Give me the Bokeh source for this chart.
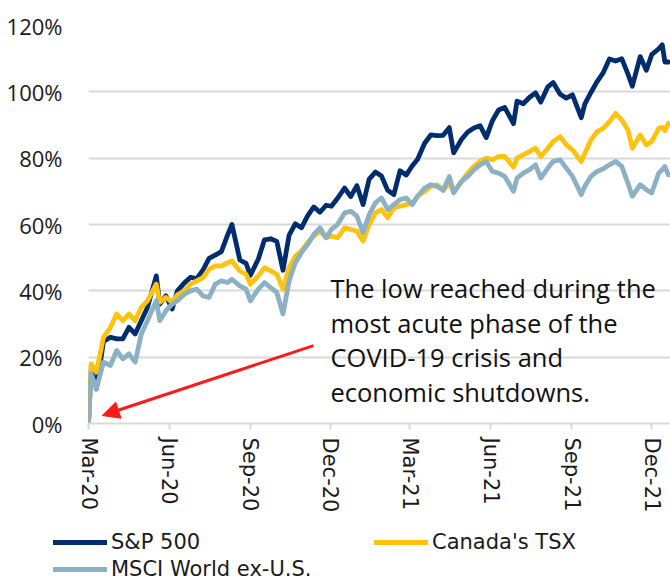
import pandas as pd
from bokeh.plotting import figure
from bokeh.layouts import column
from bokeh.models import (Range1d, FixedTicker, Legend, LegendItem, Label, Arrow,
                          NormalHead, ColumnDataSource)
from bokeh.embed import file_html
from bokeh.resources import INLINE

# ---------------- data (cumulative return since the March 23, 2020 low, %) ----------------
dates = [
    "2020-03-23", "2020-03-26", "2020-04-01", "2020-04-09", "2020-04-17", "2020-04-24",
    "2020-05-01", "2020-05-08", "2020-05-15", "2020-05-22", "2020-05-29", "2020-06-08",
    "2020-06-12", "2020-06-19", "2020-06-26", "2020-07-02", "2020-07-10", "2020-07-17",
    "2020-07-24", "2020-07-31", "2020-08-07", "2020-08-14", "2020-08-21", "2020-08-28",
    "2020-09-02", "2020-09-11", "2020-09-18", "2020-09-23", "2020-10-02", "2020-10-09",
    "2020-10-16", "2020-10-23", "2020-10-30", "2020-11-06", "2020-11-13", "2020-11-20",
    "2020-11-27", "2020-12-04", "2020-12-11", "2020-12-18", "2020-12-24", "2020-12-31",
    "2021-01-08", "2021-01-15", "2021-01-22", "2021-01-29", "2021-02-05", "2021-02-12",
    "2021-02-19", "2021-02-26", "2021-03-05", "2021-03-12", "2021-03-19", "2021-03-26",
    "2021-04-01", "2021-04-09", "2021-04-16", "2021-04-23", "2021-04-30", "2021-05-07",
    "2021-05-12", "2021-05-21", "2021-05-28", "2021-06-04", "2021-06-11", "2021-06-18",
    "2021-06-25", "2021-07-02", "2021-07-09", "2021-07-19", "2021-07-23", "2021-07-30",
    "2021-08-06", "2021-08-13", "2021-08-19", "2021-08-27", "2021-09-02", "2021-09-10",
    "2021-09-17", "2021-09-24", "2021-10-04", "2021-10-08", "2021-10-15", "2021-10-22",
    "2021-10-29", "2021-11-05", "2021-11-12", "2021-11-19", "2021-11-26", "2021-12-01",
    "2021-12-10", "2021-12-17", "2021-12-23", "2021-12-31", "2022-01-04", "2022-01-07",
    "2022-01-11",
]

sp500 = [
    0, 17.5, 10.4, 24.7, 26.0, 25.5, 25.5, 29.0, 27.0, 31.0, 35.0, 44.5,
    36.0, 38.5, 34.5, 40.0, 42.4, 44.1, 43.7, 46.2, 49.8, 50.8, 51.8, 56.8,
    60.0, 49.3, 48.3, 44.7, 49.6, 55.4, 55.7, 54.9, 46.2, 56.8, 60.2, 59.0,
    62.6, 65.3, 63.7, 65.8, 65.5, 67.9, 71.0, 68.4, 71.7, 66.0, 73.7, 75.8,
    74.6, 70.3, 69.0, 76.2, 74.9, 77.7, 79.7, 84.5, 87.0, 86.8, 86.9, 89.2,
    81.6, 85.7, 87.9, 89.1, 89.8, 86.2, 91.3, 94.5, 95.3, 90.4, 97.2, 96.4,
    98.3, 99.7, 96.9, 101.5, 102.8, 99.3, 98.1, 99.1, 92.2, 96.3, 99.8, 103.1,
    105.8, 109.9, 109.3, 110.0, 105.4, 101.7, 110.6, 106.5, 111.2, 113.0, 114.2, 109.0,
    109.0,
]

tsx = [
    0, 18.0, 15.5, 26.0, 29.0, 33.0, 31.0, 33.0, 31.0, 35.0, 37.0, 42.0,
    36.5, 38.0, 36.5, 38.8, 40.0, 42.0, 43.0, 44.0, 46.5, 47.5, 47.5, 48.5,
    49.0, 46.0, 45.0, 42.0, 44.5, 47.0, 46.0, 45.0, 40.5, 47.0, 50.5, 52.0,
    54.5, 56.5, 58.0, 56.0, 56.5, 56.0, 59.0, 58.5, 58.0, 55.0, 60.0, 63.5,
    64.5, 62.0, 65.0, 65.5, 66.0, 66.5, 68.5, 70.0, 71.5, 72.0, 70.3, 72.5,
    70.0, 73.0, 75.5, 77.5, 79.0, 80.0, 79.5, 80.5, 80.5, 77.3, 80.0, 81.0,
    82.0, 83.0, 80.5, 83.0, 85.0, 86.5, 84.0, 82.5, 79.0, 81.5, 85.5, 88.0,
    89.0, 91.0, 93.5, 91.5, 88.5, 83.0, 87.0, 84.0, 85.0, 89.0, 89.3, 88.3,
    90.5,
]

msci = [
    0, 15.0, 10.5, 18.5, 17.5, 22.0, 19.5, 21.0, 18.5, 27.0, 31.0, 37.0,
    31.0, 34.0, 36.0, 37.0, 39.0, 40.0, 40.5, 38.5, 38.0, 42.0, 43.0, 42.5,
    43.5, 41.5, 40.5, 37.0, 40.5, 42.5, 41.0, 39.5, 33.0, 43.0, 48.5, 51.5,
    54.0, 57.0, 59.0, 56.0, 58.5, 60.0, 63.5, 64.0, 62.5, 57.5, 63.0, 66.5,
    68.0, 64.5, 66.0, 67.5, 68.0, 66.0, 68.5, 71.0, 72.0, 71.5, 70.3, 74.5,
    69.5, 73.0, 74.5, 76.5, 78.0, 79.0, 76.0, 75.5, 74.5, 70.0, 74.0, 75.5,
    76.5, 78.0, 74.0, 77.0, 79.0, 79.5, 77.0, 74.5, 69.0, 71.5, 74.5, 76.0,
    76.8, 78.0, 79.0, 77.5, 72.5, 68.5, 72.0, 70.5, 69.5, 75.5, 76.5, 77.5,
    75.0,
]

series_names = ["S&P 500", "Canada's TSX", "MSCI World ex-U.S."]
series_colors = ["#002D6E", "#FFC20E", "#8DB1C4"]

tick_dates = ["2020-03-23", "2020-06-23", "2020-09-23", "2020-12-23",
              "2021-03-23", "2021-06-23", "2021-09-23", "2021-12-23"]
tick_labels = ["Mar-20", "Jun-20", "Sep-20", "Dec-20", "Mar-21", "Jun-21", "Sep-21", "Dec-21"]
y_ticks = [0, 20, 40, 60, 80, 100, 120]

note_lines = ["The low reached during the", "most acute phase of the",
              "COVID-19 crisis and", "economic shutdowns."]

# ---------------- build ----------------
start = pd.Timestamp(dates[0])
day = [(pd.Timestamp(d) - start).days for d in dates]
tick_days = [(pd.Timestamp(d) - start).days for d in tick_dates]

src = ColumnDataSource(dict(day=day, sp=sp500, tsx=tsx, msci=msci))

p = figure(width=670, height=520, output_backend="svg", toolbar_location=None,
           x_range=Range1d(0, 661.4), y_range=Range1d(0, 120),
           min_border_left=88, min_border_right=0, min_border_top=25, min_border_bottom=97)
p.outline_line_color = None
p.background_fill_color = "white"
p.border_fill_color = "white"

# grid
p.xgrid.grid_line_color = None
p.ygrid.ticker = FixedTicker(ticks=y_ticks)
p.ygrid.grid_line_color = "#D9D9D9"
p.ygrid.grid_line_width = 2

# y axis
p.yaxis.ticker = FixedTicker(ticks=y_ticks)
p.yaxis.major_label_overrides = {t: f"{t}%" for t in y_ticks}
p.yaxis.axis_line_color = None
p.yaxis.major_tick_line_color = None
p.yaxis.minor_tick_line_color = None
p.yaxis.major_label_standoff = 20
p.yaxis.major_label_text_font = "Open Sans"
p.yaxis.major_label_text_font_size = "22px"
p.yaxis.major_label_text_color = "#1A1A1A"

# x axis
p.xaxis.ticker = FixedTicker(ticks=tick_days)
p.xaxis.major_label_overrides = {t: l for t, l in zip(tick_days, tick_labels)}
p.xaxis.major_label_orientation = "vertical"
p.xaxis.axis_line_color = "#D9D9D9"
p.xaxis.axis_line_width = 2
p.xaxis.major_tick_line_color = "#D9D9D9"
p.xaxis.major_tick_line_width = 2
p.xaxis.major_tick_in = 0
p.xaxis.major_tick_out = 6
p.xaxis.minor_tick_line_color = None
p.xaxis.major_label_standoff = 8
p.xaxis.major_label_text_font = "DejaVu Sans"
p.xaxis.major_label_text_font_size = "21px"
p.xaxis.major_label_text_color = "#1A1A1A"

# lines
for col, color in zip(["sp", "tsx", "msci"], series_colors):
    p.line(x="day", y=col, source=src, line_color=color, line_width=4.8,
           line_join="round", line_cap="round")

# annotation text + arrow
NOTE_X = 275
NOTE_Y0 = 41.0
NOTE_DY = 10.55
for i, line in enumerate(note_lines):
    p.add_layout(Label(x=NOTE_X, y=NOTE_Y0 - i * NOTE_DY, text=line,
                       text_font="Open Sans", text_font_size="25.5px",
                       text_baseline="middle", text_align="left", text_color="#111111"))

p.add_layout(Arrow(end=NormalHead(size=17, fill_color="#FF1A1A", line_color="#FF1A1A"),
                   x_start=255.7, y_start=23.5, x_end=15.6, y_end=2.4,
                   line_color="#FF1A1A", line_width=3))

# ---------------- legend strip ----------------
lg_fig = figure(width=670, height=60, output_backend="svg", toolbar_location=None,
                x_axis_type=None, y_axis_type=None, frame_align=False,
                x_range=Range1d(0, 1), y_range=Range1d(0, 1),
                min_border_left=0, min_border_right=0, min_border_top=0, min_border_bottom=0)
lg_fig.outline_line_color = None
lg_fig.xgrid.grid_line_color = None
lg_fig.ygrid.grid_line_color = None

legend_locs = [(53, 26), (374, 26), (53, -1)]
for name, color, loc in zip(series_names, series_colors, legend_locs):
    # swatch renderer kept outside the visible range; only its legend entry shows
    r = lg_fig.line(x=[-3, -2], y=[-3, -3], line_color=color, line_width=5, line_cap="round")
    lg = Legend(items=[LegendItem(label=name, renderers=[r])], location=loc,
                glyph_width=54, glyph_height=22, label_standoff=4, padding=0, margin=0,
                border_line_color=None, background_fill_alpha=0,
                label_text_font="DejaVu Sans", label_text_font_size="21px",
                label_text_color="#1A1A1A", label_height=22)
    lg_fig.add_layout(lg)

layout = column(p, lg_fig, spacing=0)
open("out.html", "w").write(file_html(layout, INLINE))
